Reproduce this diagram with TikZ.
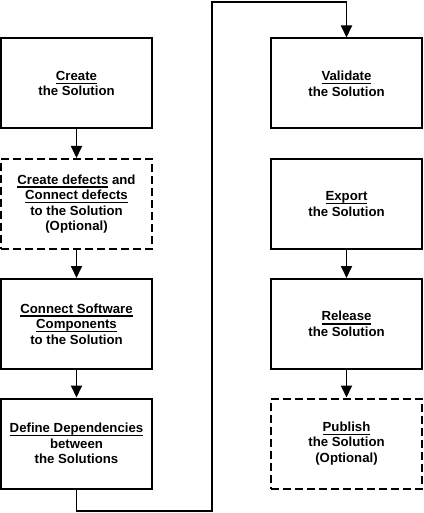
\documentclass[tikz,border=0pt]{standalone}
\usepackage{fontspec}
\setmainfont{Liberation Sans}
\usepackage{tikz}
\usetikzlibrary{arrows.meta,positioning}
\newcommand{\ulabel}[1]{\setbox0\hbox{#1}\rlap{\rule[-3.6pt]{\wd0}{1.3pt}}\box0\relax}

\begin{document}
\begin{tikzpicture}[
                x=1pt, y=-1pt,
                font=\fontsize{13.2}{15.6}\selectfont\bfseries,
                box/.style={rectangle, draw=black, line width=2pt, minimum width=151pt, minimum height=90pt, align=center, inner sep=0pt},
                optbox/.style={box, dash pattern=on 8pt off 4pt},
                arr/.style={-{Triangle[length=12pt, width=11pt]}, line width=1.8pt},
            ]
            \useasboundingbox (0,0) rectangle (423,513);
            \node[box] (create) at (76.5,83.5) {\ulabel{Create}\\the Solution};
            \node[optbox] (defects) at (76.5,204) {\ulabel{Create defects} and\\\ulabel{Connect defects}\\to the Solution\\(Optional)};
            \node[box] (connect) at (76.5,324) {\ulabel{Connect Software}\\\ulabel{Components}\\to the Solution};
            \node[box] (depend) at (76.5,443.5) {\ulabel{Define Dependencies}\\between\\the Solutions};
            \node[box] (validate) at (346.5,83.5) {\ulabel{Validate}\\the Solution};
            \node[box] (export) at (346.5,204) {\ulabel{Export}\\the Solution};
            \node[box] (release) at (346.5,324) {\ulabel{Release}\\the Solution};
            \node[optbox] (publish) at (346.5,443.5) {\ulabel{Publish}\\the Solution\\(Optional)};
            \coordinate (lowturn) at (212,511);
            \coordinate (topturn) at (212,2);
            \draw[arr] (create) -- (defects);
            \draw[arr] (defects) -- (connect);
            \draw[arr] (connect) -- (depend);
            \draw[arr] (depend.south) |- (lowturn) -- (topturn) -| (validate.north);
            \draw[arr] (export) -- (release);
            \draw[arr] (release) -- (publish);
        \end{tikzpicture}
\end{document}
